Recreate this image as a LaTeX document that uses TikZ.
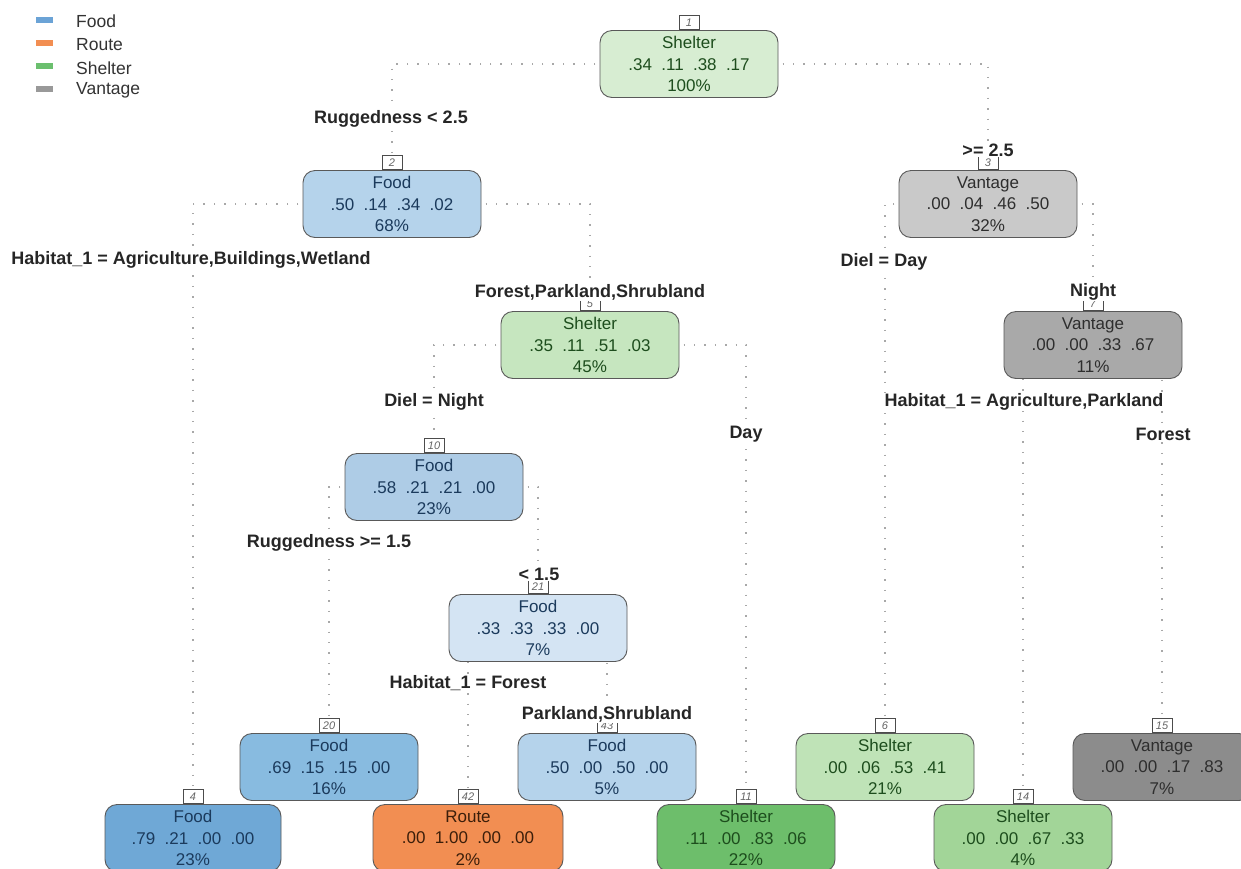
\documentclass[tikz,border=0pt]{standalone}
\usepackage{fontspec}
\setmainfont{Liberation Sans}
\usetikzlibrary{backgrounds}
\definecolor{fA}{HTML}{6FA8D6}
\definecolor{fB}{HTML}{88BBE0}
\definecolor{fC}{HTML}{AECCE6}
\definecolor{fD}{HTML}{B5D3EB}
\definecolor{fE}{HTML}{D4E4F3}
\definecolor{sA}{HTML}{D7EDD2}
\definecolor{sB}{HTML}{C6E6BF}
\definecolor{sC}{HTML}{BFE3B7}
\definecolor{sD}{HTML}{A2D598}
\definecolor{sE}{HTML}{6DBE6B}
\definecolor{vA}{HTML}{C9C9C9}
\definecolor{vB}{HTML}{A9A9A9}
\definecolor{vC}{HTML}{8C8C8C}
\definecolor{rA}{HTML}{F28E52}
\definecolor{tF}{HTML}{1B3A5C}
\definecolor{tS}{HTML}{1D4D1D}
\definecolor{tV}{HTML}{2E2E2E}
\definecolor{tR}{HTML}{3B1E0A}
\definecolor{lgF}{HTML}{6BA3D6}
\definecolor{lgR}{HTML}{F28E52}
\definecolor{lgS}{HTML}{6BBF6E}
\definecolor{lgV}{HTML}{999999}
\definecolor{edgec}{HTML}{A8A8A8}
\newcommand\gp{\hspace{0.55em}}
\tikzset{
  tn/.style={draw=black!65, line width=0.9pt, rounded corners=12pt, minimum width=178pt,
    minimum height=67pt, align=center, inner sep=0pt,
    font=\fontsize{17}{21.5}\selectfont},
  food/.style={tn, text=tF},
  shel/.style={tn, text=tS},
  vant/.style={tn, text=tV},
  rout/.style={tn, text=tR},
  num/.style={draw=black!70, line width=0.6pt, fill=white, text=black!60,
    font=\fontsize{11}{11}\selectfont\itshape, minimum width=20pt, minimum height=14pt,
    inner sep=1.5pt, anchor=south},
  lab/.style={font=\fontsize{18}{18}\selectfont\bfseries, fill=white, inner sep=1pt, text=black!85},
  edge/.style={draw=edgec, line width=1.4pt, dash pattern=on 1.4pt off 9pt},
  lgbox/.style={minimum width=17pt, minimum height=6pt, inner sep=0pt},
  lgtxt/.style={anchor=west, font=\fontsize{17.5}{17.5}\selectfont, text=black!80, inner sep=0pt},
}
\begin{document}
\begin{tikzpicture}[x=1pt,y=-1pt]
\useasboundingbox (0,0) rectangle (1241,868);
% legend
\node[lgbox, fill=lgF] (lg1) at (44,20) {};
\node[lgbox, fill=lgR] (lg2) at (44,43) {};
\node[lgbox, fill=lgS] (lg3) at (44,66) {};
\node[lgbox, fill=lgV] (lg4) at (44,89) {};
\node[lgtxt] (lt1) at (76,21) {Food};
\node[lgtxt] (lt2) at (76,45) {Route};
\node[lgtxt] (lt3) at (76,68) {Shelter};
\node[lgtxt] (lt4) at (76,90) {Vantage};
% tree nodes
\node[shel, fill=sA] (n1) at (689,64) {Shelter\\.34\gp.11\gp.38\gp.17\\100\%};
\node[food, fill=fD] (n2) at (392,204) {Food\\.50\gp.14\gp.34\gp.02\\68\%};
\node[vant, fill=vA] (n3) at (988,204) {Vantage\\.00\gp.04\gp.46\gp.50\\32\%};
\node[shel, fill=sB] (n5) at (590,345) {Shelter\\.35\gp.11\gp.51\gp.03\\45\%};
\node[vant, fill=vB] (n7) at (1093,345) {Vantage\\.00\gp.00\gp.33\gp.67\\11\%};
\node[food, fill=fC] (n10) at (434,487) {Food\\.58\gp.21\gp.21\gp.00\\23\%};
\node[food, fill=fE] (n21) at (538,628) {Food\\.33\gp.33\gp.33\gp.00\\7\%};
\node[food, fill=fB] (n20) at (329,767) {Food\\.69\gp.15\gp.15\gp.00\\16\%};
\node[food, fill=fD] (n43) at (607,767) {Food\\.50\gp.00\gp.50\gp.00\\5\%};
\node[shel, fill=sC] (n6) at (885,767) {Shelter\\.00\gp.06\gp.53\gp.41\\21\%};
\node[vant, fill=vC] (n15) at (1162,767) {Vantage\\.00\gp.00\gp.17\gp.83\\7\%};
\node[food, fill=fA, minimum width=176pt] (n4) at (193,838) {Food\\.79\gp.21\gp.00\gp.00\\23\%};
\node[rout, fill=rA, minimum width=190pt] (n42) at (468,838) {Route\\.00\gp1.00\gp.00\gp.00\\2\%};
\node[shel, fill=sE] (n11) at (746,838) {Shelter\\.11\gp.00\gp.83\gp.06\\22\%};
\node[shel, fill=sD] (n14) at (1023,838) {Shelter\\.00\gp.00\gp.67\gp.33\\4\%};
% node numbers
\node[num] (t1) at (n1.north) {1};
\node[num] (t2) at (n2.north) {2};
\node[num] (t3) at (n3.north) {3};
\node[num] (t5) at (n5.north) {5};
\node[num] (t7) at (n7.north) {7};
\node[num] (t10) at (n10.north) {10};
\node[num] (t21) at (n21.north) {21};
\node[num] (t20) at (n20.north) {20};
\node[num] (t43) at (n43.north) {43};
\node[num] (t6) at (n6.north) {6};
\node[num] (t15) at (n15.north) {15};
\node[num] (t4) at (n4.north) {4};
\node[num] (t42) at (n42.north) {42};
\node[num] (t11) at (n11.north) {11};
\node[num] (t14) at (n14.north) {14};
% edges
\begin{scope}[on background layer]
\fill[white] (0,0) rectangle (1241,868);
\draw[edge] (n1.center) -| (t2.north);
\draw[edge] (n1.center) -| (t3.north);
\draw[edge] (n2.center) -| (t4.north);
\draw[edge] (n2.center) -| (t5.north);
\draw[edge] (n3.center) -| (t6.north);
\draw[edge] (n3.center) -| (t7.north);
\draw[edge] (n5.center) -| (t10.north);
\draw[edge] (n5.center) -| (t11.north);
\draw[edge] (n7.center) -| (t14.north);
\draw[edge] (n7.center) -| (t15.north);
\draw[edge] (n10.center) -| (t20.north);
\draw[edge] (n10.center) -| (t21.north);
\draw[edge] (n21.center) -| (t42.north);
\draw[edge] (n21.center) -| (t43.north);
\end{scope}
% split labels
\node[lab] (l2) at (391,119) {Ruggedness < 2.5};
\node[lab] (l3) at (988,150) {>= 2.5};
\node[lab] (l4) at (191,260) {Habitat\_1 = Agriculture,Buildings,Wetland};
\node[lab] (l5) at (590,292) {Forest,Parkland,Shrubland};
\node[lab] (l6) at (884,262) {Diel = Day};
\node[lab] (l7) at (1093,292) {Night};
\node[lab] (l10) at (434,402) {Diel = Night};
\node[lab] (l11) at (746,434) {Day};
\node[lab] (l14) at (1024,402) {Habitat\_1 = Agriculture,Parkland};
\node[lab] (l15) at (1163,434) {Forest};
\node[lab] (l20) at (329,543) {Ruggedness >= 1.5};
\node[lab] (l21) at (539,574) {< 1.5};
\node[lab] (l42) at (468,683) {Habitat\_1 = Forest};
\node[lab] (l43) at (607,714) {Parkland,Shrubland};
\end{tikzpicture}
\end{document}
